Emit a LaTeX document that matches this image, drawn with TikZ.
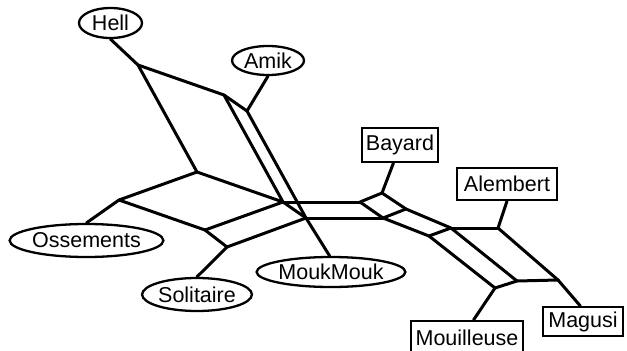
\documentclass[tikz,border=0pt]{standalone}
\usepackage{fontspec}
\setmainfont{Liberation Sans}
\usetikzlibrary{shapes.geometric}
\begin{document}
\begin{tikzpicture}[x=1pt,y=-1pt,
  edge/.style={line width=3pt,line cap=round,line join=round},
  leafE/.style={draw,ellipse,line width=2.3pt,inner sep=0pt,font=\fontsize{21.5}{25}\selectfont},
  leafR/.style={draw,rectangle,line width=2.3pt,inner sep=0pt,font=\fontsize{21.5}{25}\selectfont}]
\useasboundingbox (0,0) rectangle (627,351);
% leaf labels
\node[leafE,minimum width=63pt,minimum height=30pt] (Hell) at (110.5,23) {Hell};
\node[leafE,minimum width=72pt,minimum height=29pt] (Amik) at (268,60.5) {Amik};
\node[leafE,minimum width=147pt,minimum height=33pt] (Oss) at (86.5,240.5) {Ossements};
\node[leafE,minimum width=102pt,minimum height=33pt] (Sol) at (197,294.5) {Solitaire};
\node[leafE,minimum width=132pt,minimum height=30pt] (Mouk) at (331,272) {MoukMouk};
\node[leafR,minimum width=76pt,minimum height=34pt] (Bay) at (400,145) {Bayard};
\node[leafR,minimum width=100pt,minimum height=32pt] (Ale) at (507,184) {Alembert};
\node[leafR,minimum width=80pt,minimum height=29pt] (Mag) at (583,321.5) {Magusi};
\node[leafR,minimum width=112pt,minimum height=34pt] (Mou) at (467,338) {Mouilleuse};
% network vertices
\coordinate (A) at (138,65);
\coordinate (B) at (224,95);
\coordinate (C) at (197,172);
\coordinate (D) at (247,111);
\coordinate (E) at (283,202);
\coordinate (G) at (306,218);
\coordinate (H) at (205,230);
\coordinate (I) at (227,247);
\coordinate (J) at (119,200);
\coordinate (K) at (360,202);
\coordinate (L) at (383,218);
\coordinate (M) at (382,193);
\coordinate (N) at (406,209);
\coordinate (P) at (451,228);
\coordinate (Q) at (429,236);
\coordinate (R) at (498,228);
\coordinate (S) at (558,280);
\coordinate (T) at (517,281);
\coordinate (U) at (495,288);
% internal edges
\draw[edge] (A) -- (B);
\draw[edge] (A) -- (C);
\draw[edge] (B) -- (D);
\draw[edge] (B) -- (E);
\draw[edge] (D) -- (G);
\draw[edge] (C) -- (E);
\draw[edge] (C) -- (J);
\draw[edge] (J) -- (H);
\draw[edge] (H) -- (E);
\draw[edge] (H) -- (I);
\draw[edge] (I) -- (G);
\draw[edge] (E) -- (G);
\draw[edge] (E) -- (K);
\draw[edge] (G) -- (L);
\draw[edge] (K) -- (M);
\draw[edge] (K) -- (L);
\draw[edge] (M) -- (N);
\draw[edge] (L) -- (N);
\draw[edge] (N) -- (P);
\draw[edge] (L) -- (Q);
\draw[edge] (Q) -- (P);
\draw[edge] (P) -- (R);
\draw[edge] (P) -- (T);
\draw[edge] (R) -- (S);
\draw[edge] (T) -- (S);
\draw[edge] (Q) -- (U);
\draw[edge] (U) -- (T);
% leaf edges
\draw[edge] (A) -- (Hell.south);
\draw[edge] (D) -- (Amik.south);
\draw[edge] (J) -- (Oss.north);
\draw[edge] (I) -- (Sol.north);
\draw[edge] (G) -- (Mouk.95);
\draw[edge] (M) -- (Bay.-110);
\draw[edge] (R) -- (Ale.south);
\draw[edge] (S) -- (Mag.100);
\draw[edge] (U) -- (Mou.70);
\end{tikzpicture}
\end{document}
